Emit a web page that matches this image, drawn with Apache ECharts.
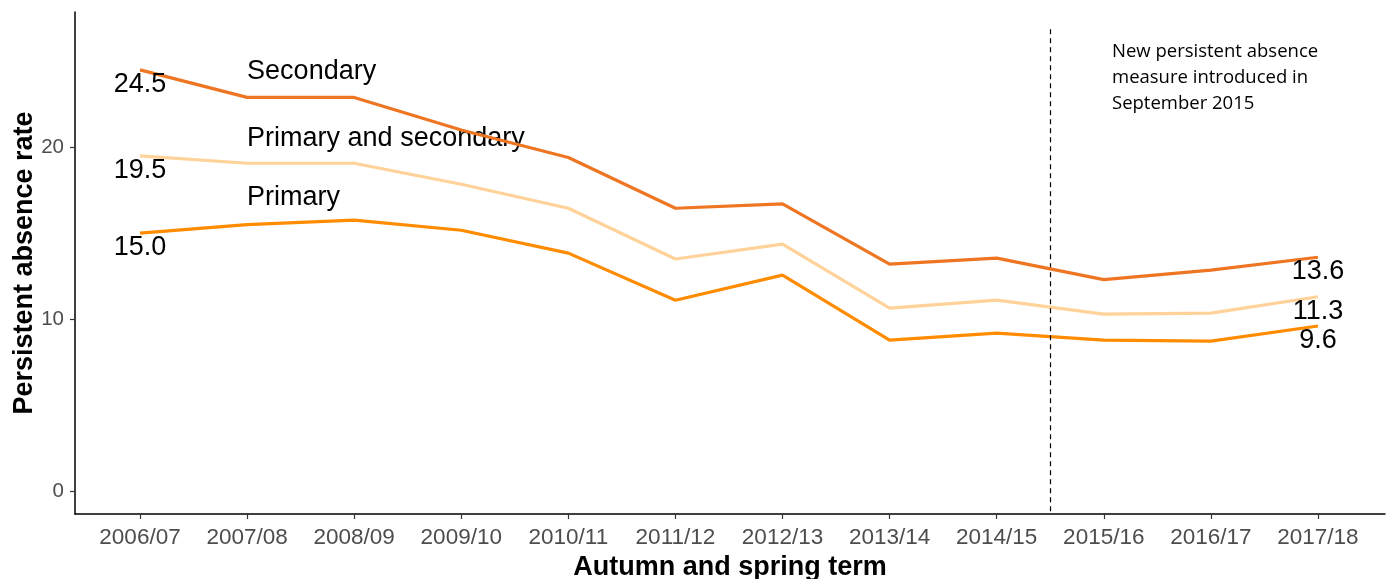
<!DOCTYPE html>
<html><head><meta charset="utf-8">
<script src="https://cdn.jsdelivr.net/npm/echarts@6/dist/echarts.min.js"></script>
<style>html,body{margin:0;padding:0;background:#fff}#c{width:1390px;height:579px}</style>
</head><body><div id="c"></div>
<script>
const categories = ['2006/07','2007/08','2008/09','2009/10','2010/11','2011/12','2012/13','2013/14','2014/15','2015/16','2016/17','2017/18'];
const secondary = [24.5, 22.9, 22.9, 21.0, 19.4, 16.45, 16.7, 13.2, 13.55, 12.3, 12.85, 13.6];
const primaryAndSecondary = [19.5, 19.07, 19.07, 17.85, 16.45, 13.5, 14.36, 10.64, 11.1, 10.29, 10.35, 11.3];
const primary = [15.0, 15.5, 15.76, 15.17, 13.84, 11.1, 12.56, 8.78, 9.19, 8.78, 8.72, 9.6];
const yTicks = [0, 10, 20];
const seriesNames = ['Secondary', 'Primary and secondary', 'Primary'];
const nameLabelValues = [24.4, 20.5, 17.05];
const cutoffPosition = 8.5;
const annotation = 'New persistent absence\nmeasure introduced in\nSeptember 2015';

const colors = ['#EE7623', '#FFD29A', '#FF8C00'];
const seriesData = [secondary, primaryAndSecondary, primary];
const chart = echarts.init(document.getElementById('c'));
const font = '"Liberation Sans", Arial, sans-serif';

const series = seriesData.map((vals, si) => ({
  type: 'line',
  name: seriesNames[si],
  data: vals.map((v, i) => [i, v]),
  symbol: 'circle', symbolSize: 0, showSymbol: true,
  itemStyle: { color: colors[si] },
  lineStyle: { color: colors[si], width: 3.2 },
  z: 5 - si,
  label: {
    show: true, position: 'bottom', distance: 1,
    color: '#000', fontSize: 27, fontFamily: font,
    formatter: p => (p.dataIndex === 0 || p.dataIndex === vals.length - 1) ? vals[p.dataIndex].toFixed(1) : ''
  },
  markPoint: {
    symbol: 'circle', symbolSize: 0, silent: true,
    label: { show: true, position: 'inside', align: 'left', verticalAlign: 'middle', color: '#000', fontSize: 27, fontFamily: font, formatter: seriesNames[si] },
    data: [{ coord: [1, nameLabelValues[si]] }]
  },
  markLine: si === 0 ? {
    symbol: 'none', silent: true,
    label: { show: false },
    lineStyle: { color: '#000', type: [5, 4], width: 1.2 },
    data: [[{ coord: [cutoffPosition, 26.86] }, { coord: [cutoffPosition, -1.34] }]]
  } : undefined
}));

chart.setOption({
  animation: false,
  backgroundColor: '#fff',
  grid: { left: 75, right: 5, top: 12, bottom: 65, containLabel: false, outerBoundsMode: 'none' },
  xAxis: {
    type: 'value', min: -0.607, max: 11.626,
    name: 'Autumn and spring term', nameLocation: 'middle', nameGap: 40, nameMoveOverlap: false,
    nameTextStyle: { fontSize: 27, fontWeight: 'bold', color: '#000', fontFamily: font },
    axisLine: { show: true, onZero: false, lineStyle: { color: '#000', width: 1.5 } },
    axisTick: { show: true, length: 5, customValues: categories.map((c, i) => i), lineStyle: { color: '#333', width: 1.2 } },
    axisLabel: { customValues: categories.map((c, i) => i), formatter: v => categories[Math.round(v)], fontSize: 22.5, color: '#4D4D4D', margin: 12, fontFamily: font },
    splitLine: { show: false }
  },
  yAxis: {
    type: 'value', min: -1.34, max: 27.87,
    name: 'Persistent absence rate', nameLocation: 'middle', nameGap: 37, nameRotate: 90, nameMoveOverlap: false,
    nameTextStyle: { fontSize: 27, fontWeight: 'bold', color: '#000', fontFamily: font },
    axisLine: { show: true, onZero: false, lineStyle: { color: '#000', width: 1.5 } },
    axisTick: { show: true, length: 5, customValues: yTicks, lineStyle: { color: '#333', width: 1.2 } },
    axisLabel: { customValues: yTicks, fontSize: 20.5, color: '#4D4D4D', margin: 11, fontFamily: font },
    splitLine: { show: false }
  },
  graphic: [{
    type: 'text', left: 1112, top: 39,
    style: { text: annotation, fontSize: 18.5, lineHeight: 26, fill: '#000', fontFamily: '"Open Sans", sans-serif' }
  }],
  series: series
});
</script></body></html>
